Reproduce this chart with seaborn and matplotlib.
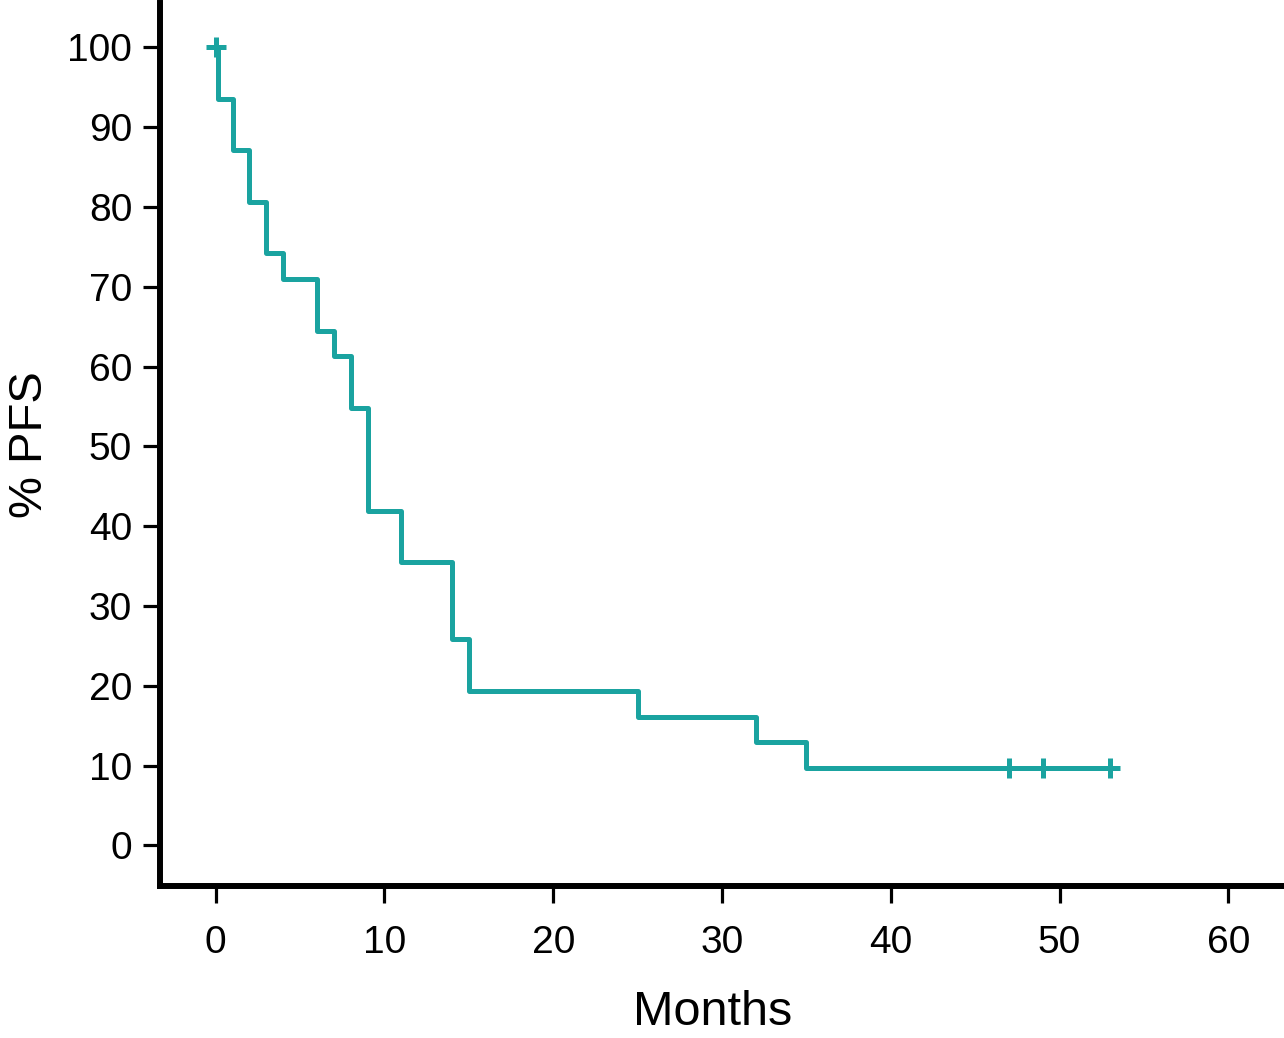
import numpy as np
import pandas as pd
import matplotlib.pyplot as plt
import seaborn as sns

# step curve (Kaplan-Meier style)
months = [0, 0.12, 1, 2, 3, 4, 6, 7, 8, 9, 11, 14, 15, 25, 32, 35, 53]
pfs = [100, 93.5, 87.1, 80.6, 74.2, 71.0, 64.5, 61.3, 54.8, 41.9, 35.5,
       25.8, 19.4, 16.1, 12.9, 9.7, 9.7]

# censored observations
cens_months = [0, 47, 49, 53]
cens_pfs = [100, 9.7, 9.7, 9.7]

x_ticks = [0, 10, 20, 30, 40, 50, 60]
y_ticks = [0, 10, 20, 30, 40, 50, 60, 70, 80, 90, 100]

teal = '#1aa3a0'

sns.set_style('ticks')
plt.rcParams['font.family'] = ['Liberation Sans', 'DejaVu Sans']

df = pd.DataFrame({'Months': months, 'PFS': pfs})
cens = pd.DataFrame({'Months': cens_months, 'PFS': cens_pfs})

fig = plt.figure(figsize=(12.84, 10.38), dpi=100)
ax = fig.add_axes([0.1246, 0.1464, 0.8754, 0.851])

sns.lineplot(data=df, x='Months', y='PFS', drawstyle='steps-post',
             color=teal, linewidth=3.6, ax=ax)
ax.scatter(cens['Months'], cens['PFS'], marker='+', s=200,
           color=teal, linewidths=3.6, zorder=3)

ax.set_xlim(-3.3, 63.3)
ax.set_ylim(-5.1, 105.6)
ax.set_xticks(x_ticks)
ax.set_yticks(y_ticks)
ax.tick_params(labelsize=28, width=2.3, length=12, direction='out',
               colors='black')
ax.tick_params(axis='x', pad=16)
ax.tick_params(axis='y', pad=8)

for s in ['top', 'right']:
    ax.spines[s].set_visible(False)
for s in ['left', 'bottom']:
    ax.spines[s].set_linewidth(4.3)
    ax.spines[s].set_color('black')

ax.set_xlabel('Months', fontsize=35, labelpad=21, color='black')
ax.xaxis.label.set_x(0.492)
ax.set_ylabel('% PFS', fontsize=34, labelpad=11, color='black')

fig.savefig('out.png', dpi=100)
